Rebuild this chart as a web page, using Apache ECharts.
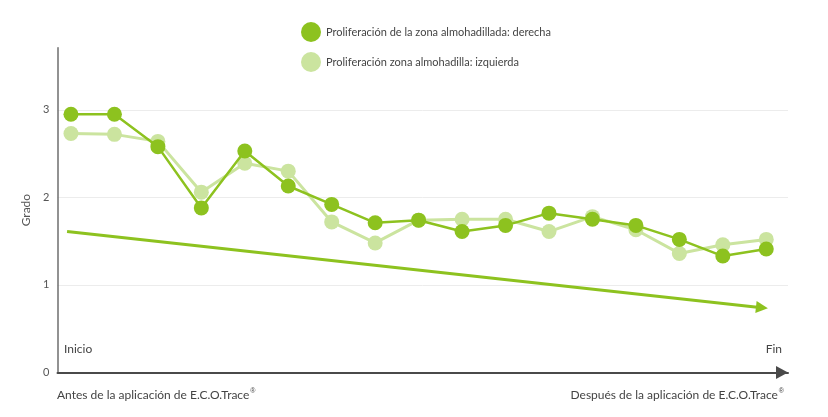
<!DOCTYPE html>
<html>
<head>
<meta charset="utf-8">
<script src="https://cdn.jsdelivr.net/npm/echarts@6/dist/echarts.min.js"></script>
<style>
  html, body { margin: 0; padding: 0; background: #fff; }
  #main { width: 828px; height: 417px; }
</style>
</head>
<body>
<div id="main"></div>
<script>
// measurements, one per session (index 0..16)
var derecha = [2.95, 2.95, 2.58, 1.88, 2.53, 2.13, 1.92, 1.71, 1.74, 1.61, 1.68, 1.82, 1.75, 1.68, 1.52, 1.33, 1.41];
var izquierda = [2.73, 2.72, 2.64, 2.06, 2.39, 2.30, 1.72, 1.48, 1.74, 1.75, 1.75, 1.61, 1.78, 1.63, 1.36, 1.46, 1.52];
var seriesNames = ['Proliferación de la zona almohadillada: derecha', 'Proliferación zona almohadilla: izquierda'];
// trend arrow, [session, grado]
var trendStart = [-0.09, 1.61];
var trendEnd = [15.9, 0.74];
var yTicks = [0, 1, 2, 3];

var font = 'Lato';
var darkGreen = '#8dc21f';
var lightGreen = '#cbe49f';

function pairs(arr) {
    return arr.map(function (v, i) { return [i, v]; });
}

var myChart = echarts.init(document.getElementById('main'));

var option = {
    animation: false,
    textStyle: { fontFamily: font },
    grid: { left: 57.5, right: 40, top: 47.7, bottom: 44.5 },
    legend: {
        orient: 'vertical',
        left: 296,
        top: 17,
        icon: 'circle',
        itemWidth: 20,
        itemHeight: 20,
        itemGap: 10,
        textStyle: { fontFamily: font, fontSize: 11, color: '#444' },
        data: seriesNames
    },
    xAxis: {
        type: 'value',
        min: -0.31,
        max: 16.5,
        axisLabel: { show: false },
        axisTick: { show: false },
        splitLine: { show: false },
        axisLine: {
            show: true,
            onZero: false,
            symbol: ['none', 'triangle'],
            symbolSize: [13, 12],
            symbolOffset: [0, -6],
            lineStyle: { color: '#4a4a4a', width: 2 }
        }
    },
    yAxis: {
        type: 'value',
        min: 0,
        max: 3.71,
        interval: 1,
        name: 'Grado',
        nameLocation: 'middle',
        nameRotate: 90,
        nameGap: 16,
        nameTextStyle: { fontFamily: font, fontSize: 12, color: '#555' },
        axisLine: { show: true, onZero: false, lineStyle: { color: '#6e6e6e', width: 1.5 } },
        axisTick: { show: false },
        axisLabel: {
            showMaxLabel: false,
            margin: 8,
            fontSize: 11,
            color: '#555',
            formatter: function (v) { return yTicks.indexOf(v) >= 0 ? String(v) : ''; }
        },
        splitLine: { show: true, showMaxLine: false, showMinLine: false, lineStyle: { color: '#ececec', width: 1 } }
    },
    series: [
        {
            name: seriesNames[1],
            type: 'line',
            data: pairs(izquierda),
            symbol: 'circle',
            symbolSize: 15,
            itemStyle: { color: lightGreen },
            lineStyle: { color: lightGreen, width: 3 },
            z: 2
        },
        {
            name: seriesNames[0],
            type: 'line',
            data: pairs(derecha),
            symbol: 'circle',
            symbolSize: 15,
            itemStyle: { color: darkGreen },
            lineStyle: { color: darkGreen, width: 2.5 },
            z: 3
        },
        {
            type: 'lines',
            coordinateSystem: 'cartesian2d',
            silent: true,
            symbol: ['none', 'triangle'],
            symbolSize: [13, 12],
            lineStyle: { color: darkGreen, width: 3, opacity: 1 },
            data: [{ coords: [trendStart, trendEnd] }],
            z: 1
        }
    ],
    graphic: [
        { type: 'text', left: 64, top: 343, style: { text: 'Inicio', font: '12px ' + font, fill: '#444' } },
        { type: 'text', right: 46, top: 343, style: { text: 'Fin', font: '12px ' + font, fill: '#444' } },
        {
            type: 'text', left: 57, top: 388,
            style: {
                text: 'Antes de la aplicación de E.C.O.Trace{s|®}',
                font: '12px ' + font, fill: '#444',
                rich: { s: { fontSize: 7, verticalAlign: 'top', padding: [0, 0, 8, 1] } }
            }
        },
        {
            type: 'text', right: 44, top: 388,
            style: {
                text: 'Después de la aplicación de E.C.O.Trace{s|®}',
                font: '12px ' + font, fill: '#444',
                rich: { s: { fontSize: 7, verticalAlign: 'top', padding: [0, 0, 8, 1] } }
            }
        }
    ]
};

myChart.setOption(option);
</script>
</body>
</html>
